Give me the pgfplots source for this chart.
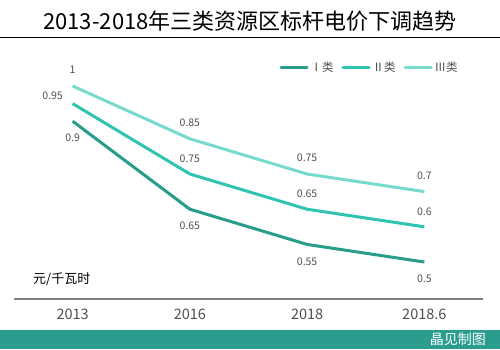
\documentclass[border=0pt]{standalone}
\usepackage{pgfplots}
\pgfplotsset{compat=1.18}
\usepackage{fontspec}
\setmainfont{Noto Sans CJK SC}
\definecolor{cI}{HTML}{2A9D8A}
\definecolor{cII}{HTML}{2EC4B1}
\definecolor{cIII}{HTML}{76DBCC}
\definecolor{banner}{HTML}{2A9D8F}
\definecolor{lab}{HTML}{505050}
\definecolor{axisgray}{HTML}{808080}
\begin{document}
\begin{tikzpicture}
\begin{axis}[
  width=469pt, height=254pt, scale only axis,
  xmin=-0.5, xmax=3.5, ymin=0.395, ymax=1.1165,
  axis x line*=bottom, axis y line=none,
  x axis line style={axisgray, line width=1.5pt, -},
  xtick={0,1,2,3}, xticklabels={2013,2016,2018,2018.6},
  major tick length=0pt,
  xticklabel style={font=\fontsize{14.5}{14.5}\selectfont, text=lab, yshift=-6pt},
  ytick=\empty,
  clip=false,
  /pgf/number format/assume math mode=true,
  nodes near coords,
  every node near coord/.append style={font=\fontsize{10.5}{10.5}\selectfont, text=lab, anchor=center},
  legend columns=3,
  legend style={draw=none, fill=none, at={(0.957,0.913)}, anchor=east,
    font=\fontsize{11.5}{11.5}\selectfont, text=lab,
    /tikz/every even column/.append style={column sep=6pt}},
  legend image code/.code={\draw[#1, line width=3pt, line cap=round] (0pt,0pt) -- (26pt,0pt);},
]
\addplot[cI, line width=3pt, every node near coord/.append style={yshift=-17pt}]
  coordinates {(0,0.9) (1,0.65) (2,0.55) (3,0.5)};
\addlegendentry{Ⅰ类}
\addplot[cII, line width=3pt, every node near coord/.append style={yshift=15pt}]
  coordinates {(1,0.75) (2,0.65) (3,0.6)};
\addlegendentry{Ⅱ类}
\addplot[cIII, line width=3pt, every node near coord/.append style={yshift=16pt}]
  coordinates {(0,1) (1,0.85) (2,0.75) (3,0.7)};
\addlegendentry{Ⅲ类}
\addplot[cII, line width=3pt, forget plot, nodes near coords=\empty]
  coordinates {(0,0.95) (1,0.75)};
\addplot[draw=none, forget plot, every node near coord/.append style={xshift=-20pt, yshift=8pt}]
  coordinates {(0,0.95)};
\coordinate (O) at (rel axis cs:0,0);
\end{axis}
\pgfresetboundingbox
\begin{scope}[shift={(O)}, xshift=-14pt, yshift=-51pt, x=1pt, y=1pt]
\useasboundingbox (0,0) rectangle (500,350);
\node[font=\fontsize{22}{22}\selectfont, text=black] at (250,329) {2013-2018年三类资源区标杆电价下调趋势};
\draw[black, line width=1pt] (0,312.5) -- (500,312.5);
\fill[banner] (0,1) rectangle (500,20);
\node[anchor=east, text=white, font=\fontsize{14}{14}\selectfont, inner sep=0pt] at (486,10.5) {晶见制图};
\node[anchor=west, text=black, font=\fontsize{13}{13}\selectfont, inner sep=0pt] at (33,71) {元/千瓦时};
\end{scope}
\end{tikzpicture}
\end{document}
